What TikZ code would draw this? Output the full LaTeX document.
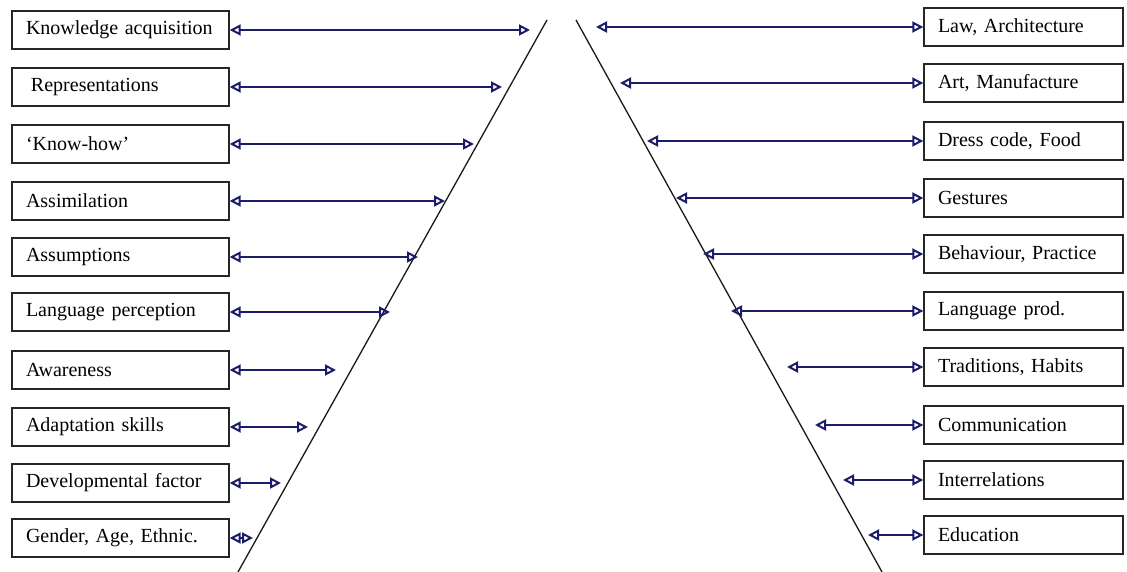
\documentclass[tikz,border=0pt]{standalone}
\usepackage{fontspec}
\setmainfont{Liberation Serif}
\usetikzlibrary{arrows.meta}
\definecolor{navy}{RGB}{28,28,105}
\begin{document}
\begin{tikzpicture}[x=1pt,y=-1pt,
  box/.style={draw=black!85, line width=1.4pt, minimum height=38pt, align=left,
    inner xsep=14pt, inner ysep=0pt, font=\fontsize{20}{22}\selectfont},
  lbox/.style={box, text width=189pt},
  rbox/.style={box, text width=171pt},
  tip/.style={Triangle[open,length=11pt,width=11pt,line width=2pt]},
  link/.style={draw=navy, line width=2.8pt, {Triangle[open,length=11pt,width=11pt,line width=2pt]}-{Triangle[open,length=11pt,width=11pt,line width=2pt]}},
  diag/.style={draw=black!90, line width=1.3pt}
]
\useasboundingbox[fill=white] (0,0) rectangle (1127,572);

% diagonal lines
\coordinate (lt) at (547,20);
\coordinate (lb) at (238,572);
\coordinate (rt) at (576,20);
\coordinate (rb) at (882,572);
\draw[diag] (lt) -- (lb);
\draw[diag] (rt) -- (rb);

% left boxes
\node[lbox] (l1) at (120.5,30) {Knowledge acquisition};
\node[lbox] (l2) at (120.5,87) {\hspace*{5pt}Representations};
\node[lbox] (l3) at (120.5,144) {‘Know-how’};
\node[lbox] (l4) at (120.5,201) {Assimilation};
\node[lbox] (l5) at (120.5,257) {Assumptions};
\node[lbox] (l6) at (120.5,312) {Language perception};
\node[lbox] (l7) at (120.5,370) {Awareness};
\node[lbox] (l8) at (120.5,427) {Adaptation skills};
\node[lbox] (l9) at (120.5,483) {Developmental factor};
\node[lbox] (l10) at (120.5,538) {Gender, Age, Ethnic.};

% right boxes
\node[rbox] (r1) at (1023.5,27) {Law, Architecture};
\node[rbox] (r2) at (1023.5,83) {Art, Manufacture};
\node[rbox] (r3) at (1023.5,141) {Dress code, Food};
\node[rbox] (r4) at (1023.5,198) {Gestures};
\node[rbox] (r5) at (1023.5,254) {Behaviour, Practice};
\node[rbox] (r6) at (1023.5,311) {Language prod.};
\node[rbox] (r7) at (1023.5,367) {Traditions, Habits};
\node[rbox] (r8) at (1023.5,425) {Communication};
\node[rbox] (r9) at (1023.5,480) {Interrelations};
\node[rbox] (r10) at (1023.5,535) {Education};

% left arrow free ends
\coordinate (le1) at (530,30);
\coordinate (le2) at (502,87);
\coordinate (le3) at (474,144);
\coordinate (le4) at (445,201);
\coordinate (le5) at (418,257);
\coordinate (le6) at (390,312);
\coordinate (le7) at (336,370);
\coordinate (le8) at (308,427);
\coordinate (le9) at (281,483);
\coordinate (le10) at (253,538);

% right arrow free ends
\coordinate (re1) at (596,27);
\coordinate (re2) at (620,83);
\coordinate (re3) at (647,141);
\coordinate (re4) at (676,198);
\coordinate (re5) at (703,254);
\coordinate (re6) at (731,311);
\coordinate (re7) at (787,367);
\coordinate (re8) at (815,425);
\coordinate (re9) at (843,480);
\coordinate (re10) at (868,535);

\foreach \i in {1,...,10}{
  \draw[link] (l\i.east) -- (le\i);
  \draw[link] (re\i) -- (r\i.west);
}
\end{tikzpicture}
\end{document}
